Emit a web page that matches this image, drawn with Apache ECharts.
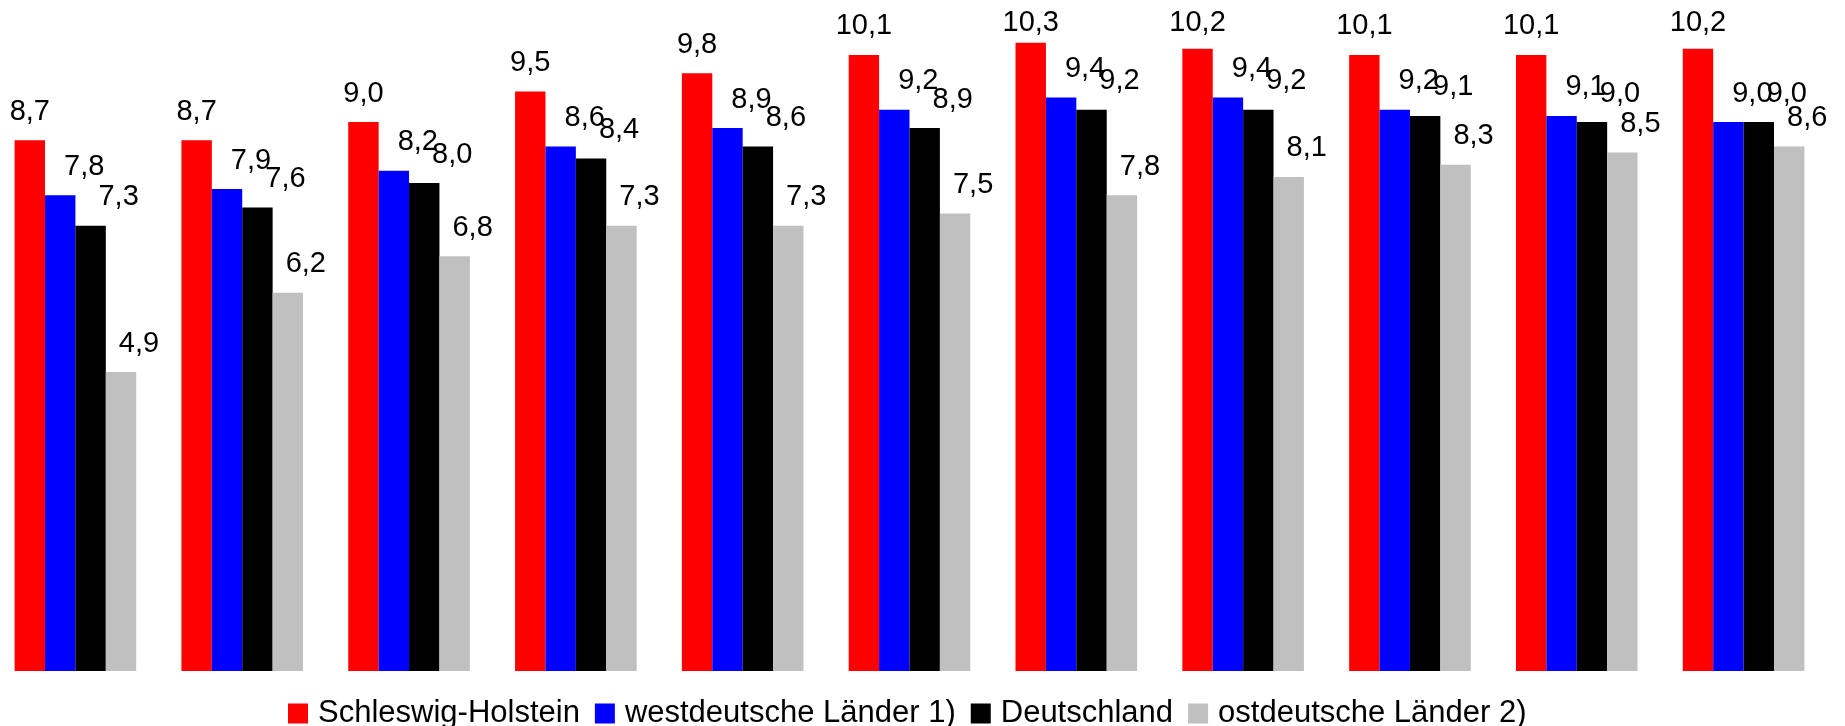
<!DOCTYPE html>
<html>
<head>
<meta charset="utf-8">
<script src="https://cdn.jsdelivr.net/npm/echarts@6/dist/echarts.min.js"></script>
<style>
  html, body { margin: 0; padding: 0; background: #fff; overflow: hidden; }
  body { position: relative; width: 1845px; height: 726px; }
  #chart { position: absolute; left: -8px; top: 0; width: 1853px; height: 726px; }
</style>
</head>
<body>
<div id="chart"></div>
<script>
// groups (no labels shown in the picture)
const categories = ['1', '2', '3', '4', '5', '6', '7', '8', '9', '10', '11'];

const schleswigHolstein = [8.7, 8.7, 9.0, 9.5, 9.8, 10.1, 10.3, 10.2, 10.1, 10.1, 10.2];
const westdeutsch = [7.8, 7.9, 8.2, 8.6, 8.9, 9.2, 9.4, 9.4, 9.2, 9.1, 9.0];
const deutschland = [7.3, 7.6, 8.0, 8.4, 8.6, 8.9, 9.2, 9.2, 9.1, 9.0, 9.0];
const ostdeutsch = [4.9, 6.2, 6.8, 7.3, 7.3, 7.5, 7.8, 8.1, 8.3, 8.5, 8.6];

const font = '"Liberation Sans", Arial, sans-serif';

function makeSeries(name, data, color, dx) {
  return {
    name: name,
    type: 'bar',
    data: data,
    barWidth: 30.4,
    barGap: '0%',
    itemStyle: { color: color },
    label: {
      show: true,
      position: 'top',
      distance: 14,
      color: '#000',
      fontSize: 29,
      fontFamily: font,
      formatter: function (p) {
        return p.value.toFixed(1).replace('.', ',');
      }
    },
    // shift right, and keep labels inside the top edge like the original
    labelLayout: function (p) {
      const minTop = 8;
      const dy = p.labelRect.y < minTop ? minTop - p.labelRect.y : 0;
      return { dx: dx, dy: dy };
    }
  };
}

const chart = echarts.init(document.getElementById('chart'));

const option = {
  animation: false,
  backgroundColor: '#fff',
  grid: {
    left: 0,
    right: 18,
    top: -3,
    bottom: 55
  },
  legend: {
    left: 291,
    top: 693,
    itemWidth: 20,
    itemHeight: 20,
    itemGap: 15,
    icon: 'rect',
    textStyle: {
      fontSize: 31,
      fontFamily: font,
      color: '#000',
      padding: [0, 0, 0, 5]
    },
    data: ['Schleswig-Holstein', 'westdeutsche Länder 1)', 'Deutschland', 'ostdeutsche Länder 2)']
  },
  xAxis: {
    type: 'category',
    data: categories,
    axisLine: { show: false },
    axisTick: { show: false },
    axisLabel: { show: false }
  },
  yAxis: {
    type: 'value',
    min: 0,
    max: 11,
    show: false,
    splitLine: { show: false }
  },
  series: [
    makeSeries('Schleswig-Holstein', schleswigHolstein, '#ff0000', 0),
    makeSeries('westdeutsche Länder 1)', westdeutsch, '#0000ff', 24),
    makeSeries('Deutschland', deutschland, '#000000', 28),
    makeSeries('ostdeutsche Länder 2)', ostdeutsch, '#c0c0c0', 18)
  ]
};

chart.setOption(option);
</script>
</body>
</html>
